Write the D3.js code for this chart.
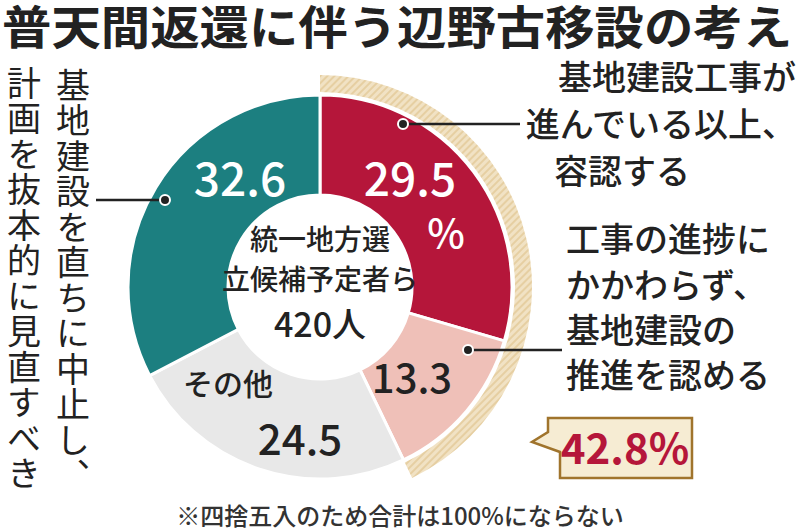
<!DOCTYPE html><html><head><meta charset="utf-8"><script src="https://cdn.jsdelivr.net/npm/d3@7"></script>
<style>body{margin:0;background:#fff}text{font-family:"Noto Sans CJK JP",sans-serif}</style></head><body><svg id="c" width="800" height="531"></svg><script>
const categories=["基地建設工事が進んでいる以上、容認する","工事の進捗にかかわらず、基地建設の推進を認める","その他","基地建設を直ちに中止し、計画を抜本的に見直すべき"];
const values=[29.5,13.3,24.5,32.6];
const valueLabels=["29.5","13.3","24.5","32.6"];
const colors=["#b5163a","#efc0b8","#e8e8e8","#1c7f80"];
const svg=d3.select("#c");
const cx=320,cy=287,R=192,r=92;
svg.append("text").attr("x",2).attr("y",44).attr("font-size",46).attr("font-weight",700).attr("fill","#222").attr("textLength",790).attr("lengthAdjust","spacingAndGlyphs").text("普天間返還に伴う辺野古移設の考え");
const pie=d3.pie().sort(null).value(d=>d);
const arcs=pie(values);
const arc=d3.arc().innerRadius(r).outerRadius(R);
const g=svg.append("g").attr("transform",`translate(${cx},${cy})`);
const defs=svg.append("defs");
const pat=defs.append("pattern").attr("id","hatch").attr("width",5).attr("height",5).attr("patternUnits","userSpaceOnUse").attr("patternTransform","rotate(45)");
pat.append("rect").attr("width",5).attr("height",5).attr("fill","#f1e2c4");
pat.append("rect").attr("width",2).attr("height",5).attr("fill","#e6cfa2");
g.append("path").attr("d",d3.arc().innerRadius(R+3).outerRadius(R+20)({startAngle:arcs[0].startAngle,endAngle:arcs[1].endAngle})).attr("fill","url(#hatch)");
g.selectAll("path.s").data(arcs).join("path").attr("class","s").attr("d",arc).attr("fill",(d,i)=>colors[i]).attr("stroke","#fff").attr("stroke-width",3);
const lab=(x,y,t,fs,fill,anchor="middle",w=500)=>svg.append("text").attr("x",x).attr("y",y).attr("font-size",fs).attr("fill",fill).attr("text-anchor",anchor).attr("font-weight",w).text(t);
lab(240,196,valueLabels[3],46,"#fff");
lab(410,196,valueLabels[0],46,"#fff");
lab(446,248,"%",40,"#fff");
lab(412,393,valueLabels[1],40,"#222");
lab(300,455,valueLabels[2],42,"#222");
lab(228,395,"その他",30,"#222");
lab(320,250,"統一地方選",28,"#222");
lab(320,290,"立候補予定者ら",28,"#222");
lab(320,337,"420人",34,"#222");
const vt=(x,y,t)=>svg.append("text").attr("x",x).attr("y",y).attr("font-size",34).attr("fill","#222").attr("writing-mode","vertical-rl").attr("letter-spacing",1.5).text(t);
vt(73,68,"基地建設を直ちに中止し、");
vt(24,66,"計画を抜本的に見直すべき");
const leader=(x1,y1,x2)=>{svg.append("line").attr("x1",x1).attr("y1",y1).attr("x2",x2).attr("y2",y1).attr("stroke","#222").attr("stroke-width",2.5);
svg.append("circle").attr("cx",x1).attr("cy",y1).attr("r",5).attr("fill","#222").attr("stroke","#fff").attr("stroke-width",2);};
leader(165,200,96);leader(403,124,520);leader(468,350,562);
["基地建設工事が","進んでいる以上、","容認する"].forEach((t,i)=>lab(i==2?690:796,[90,137,184][i],t,34,"#222","end"));
["工事の進捗に","かかわらず、","基地建設の","推進を認める"].forEach((t,i)=>lab(566,[252,298,343,388][i],t,34,"#222","start"));
svg.append("path").attr("d","M548,418 L692,418 L692,478 L560,478 L560,452 L532,442 L548,432 Z").attr("fill","#f6ecd3").attr("stroke","#a0742c").attr("stroke-width",2.5);
lab(625,464,"42.8%",42,"#b5163a","middle",700);
lab(400,525,"※四捨五入のため合計は100%にならない",24,"#333");
</script></body></html>
